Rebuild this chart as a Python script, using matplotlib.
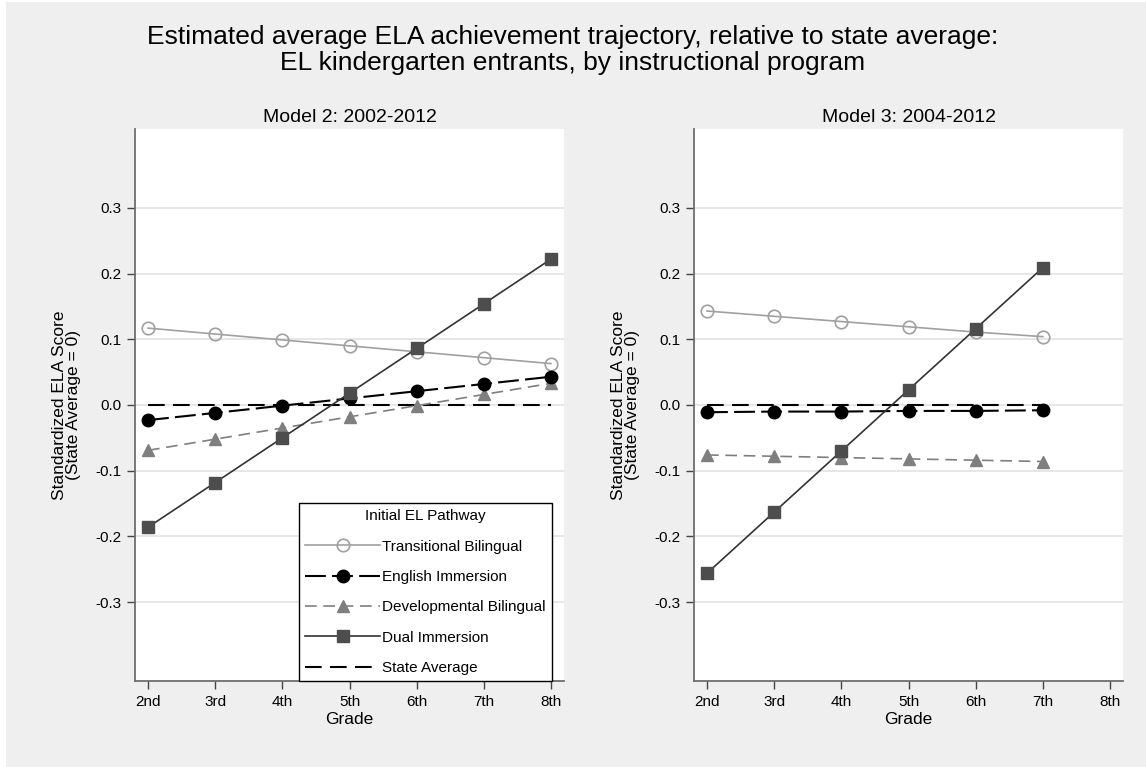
import matplotlib
matplotlib.use('Agg')
import matplotlib.pyplot as plt
from matplotlib.patches import Rectangle

plt.rcParams['font.family'] = ['Liberation Sans', 'DejaVu Sans']

grades = ['2nd', '3rd', '4th', '5th', '6th', '7th', '8th']
yticks = [-0.3, -0.2, -0.1, 0.0, 0.1, 0.2, 0.3]

# Model 2: 2002-2012 (grades 2nd-8th)
m2_transitional = [0.117, 0.108, 0.099, 0.090, 0.081, 0.072, 0.063]
m2_english = [-0.023, -0.012, -0.001, 0.010, 0.021, 0.032, 0.043]
m2_developmental = [-0.069, -0.052, -0.035, -0.018, -0.001, 0.016, 0.033]
m2_dual = [-0.186, -0.118, -0.050, 0.018, 0.086, 0.154, 0.222]
m2_state = [0, 0, 0, 0, 0, 0, 0]

# Model 3: 2004-2012 (grades 2nd-7th)
m3_transitional = [0.143, 0.135, 0.127, 0.119, 0.111, 0.104]
m3_english = [-0.011, -0.010, -0.010, -0.009, -0.009, -0.008]
m3_developmental = [-0.076, -0.078, -0.080, -0.082, -0.084, -0.086]
m3_dual = [-0.256, -0.163, -0.070, 0.023, 0.116, 0.209]
m3_state = [0, 0, 0, 0, 0, 0]

labels = ['Transitional Bilingual', 'English Immersion', 'Developmental Bilingual',
          'Dual Immersion', 'State Average']

W, H = 1146, 767
fig = plt.figure(figsize=(W / 100, H / 100), dpi=100)
fig.patch.set_facecolor('white')
fig.patches.append(Rectangle((6 / W, 0), 1 - 6 / W, 1 - 2 / H, transform=fig.transFigure,
                             facecolor='#efefef', edgecolor='none', zorder=-10))


def panel(left_px, title, trans, eng, dev, dual, state):
    ax = fig.add_axes([left_px / W, (H - 681) / H, 429 / W, 552 / H])
    ax.set_facecolor('white')
    x = list(range(len(trans)))
    ax.plot(x, trans, color='#a0a0a0', lw=1.2, marker='o', ms=9, mfc='none',
            mec='#a0a0a0', mew=1.2, label=labels[0], zorder=3)
    ax.plot(x, eng, color='black', lw=1.5, dashes=(10, 3), marker='o', ms=9,
            mfc='black', mec='black', label=labels[1], zorder=4)
    ax.plot(x, dev, color='#7f7f7f', lw=1.2, dashes=(7, 4), marker='^', ms=9,
            mfc='#7f7f7f', mec='#7f7f7f', label=labels[2], zorder=3)
    ax.plot(x, dual, color='#333333', lw=1.2, marker='s', ms=9, mfc='#4d4d4d',
            mec='#4d4d4d', label=labels[3], zorder=5)
    ax.plot(x, state, color='black', lw=1.5, dashes=(8, 4), label=labels[4], zorder=2)

    ax.set_xlim(-0.194, 6.194)
    ax.set_ylim(-0.42, 0.42)
    ax.set_xticks(range(len(grades)))
    ax.set_xticklabels(grades, fontsize=11)
    ax.set_yticks(yticks)
    ax.set_yticklabels([f'{v:.1f}' for v in yticks], fontsize=11)
    ax.yaxis.grid(True, color='#e3e3e3', lw=1.2)
    ax.set_axisbelow(True)
    for s in ['top', 'right']:
        ax.spines[s].set_visible(False)
    for s in ['left', 'bottom']:
        ax.spines[s].set_color('#6e6e6e')
        ax.spines[s].set_linewidth(1.3)
    ax.tick_params(direction='out', length=6, width=1, color='#444444', pad=4)
    ax.set_xlabel('Grade', fontsize=12.5, labelpad=2)
    ax.set_ylabel('Standardized ELA Score\n(State Average = 0)', fontsize=12.5, labelpad=10,
                  linespacing=0.95)
    ax.set_title(title, fontsize=14, pad=5)
    return ax


ax1 = panel(135, 'Model 2: 2002-2012', m2_transitional, m2_english, m2_developmental,
            m2_dual, m2_state)
ax2 = panel(694, 'Model 3: 2004-2012', m3_transitional, m3_english, m3_developmental,
            m3_dual, m3_state)

leg = ax1.legend(loc='lower right', bbox_to_anchor=(0.972, 0.0), borderaxespad=0,
                 title='Initial EL Pathway', fontsize=11, title_fontsize=11,
                 handlelength=4.9, handletextpad=0.15, labelspacing=1.07,
                 fancybox=False, framealpha=1, edgecolor='black', borderpad=0.4)
leg.get_frame().set_linewidth(1.0)

fig.suptitle('Estimated average ELA achievement trajectory, relative to state average:\n'
             'EL kindergarten entrants, by instructional program',
             fontsize=19, y=0.967, linespacing=1.08)

fig.savefig('out.png', dpi=100, facecolor=fig.get_facecolor())
